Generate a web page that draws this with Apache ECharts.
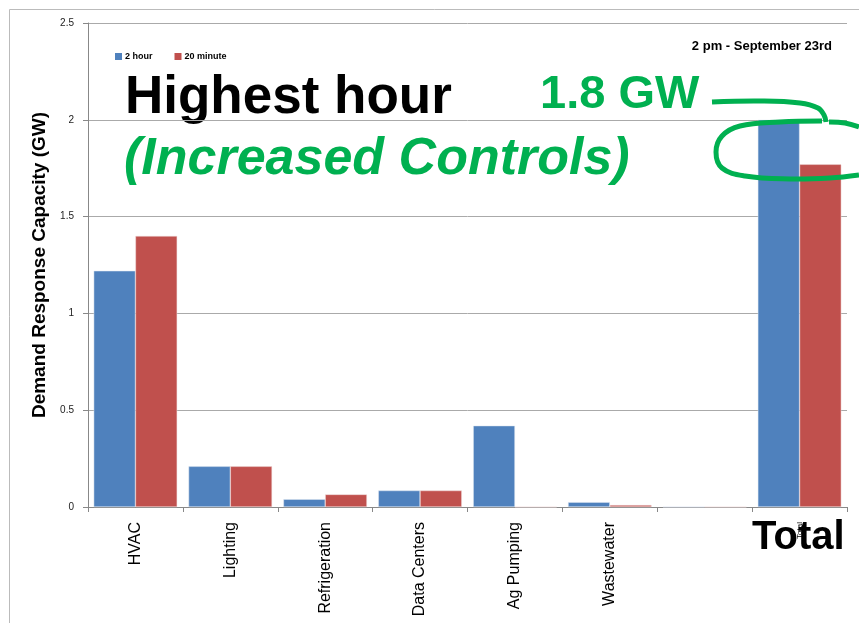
<!DOCTYPE html>
<html>
<head>
<meta charset="utf-8">
<script src="https://cdn.jsdelivr.net/npm/echarts@6/dist/echarts.min.js"></script>
<style>
  html, body { margin: 0; padding: 0; background: #fff; }
  #chart { width: 859px; height: 623px; }
</style>
</head>
<body>
<div id="chart"></div>
<script>
const categories = ["HVAC", "Lighting", "Refrigeration", "Data Centers", "Ag Pumping", "Wastewater", "", "Total"];
const twoHour = [1.22, 0.21, 0.04, 0.085, 0.42, 0.025, 0, 2.0];
const twentyMinute = [1.4, 0.21, 0.065, 0.085, 0, 0.01, 0, 1.77];
const yTicks = [0, 0.5, 1, 1.5, 2, 2.5];

const green = "#00B050";
const chart = echarts.init(document.getElementById("chart"));

const options = {
  animation: false,
  textStyle: { fontFamily: "Liberation Sans" },
  grid: { left: 88, right: 12, top: 23, bottom: 116 },
  legend: {
    left: 110,
    top: 47,
    itemWidth: 7,
    itemHeight: 7,
    itemGap: 22,
    icon: "rect",
    itemStyle: { borderWidth: 0 },
    textStyle: { fontSize: 9, fontWeight: "bold", color: "#000", padding: [0, 0, 0, -2] },
    data: ["2 hour", "20 minute"],
  },
  xAxis: {
    type: "category",
    data: categories.map((c) =>
      c === "Total" ? { value: c, textStyle: { fontSize: 8 } } : c,
    ),
    axisLine: { lineStyle: { color: "#888", width: 1 } },
    axisTick: { show: true, length: 5, lineStyle: { color: "#888" } },
    axisLabel: {
      rotate: 90,
      margin: 15,
      interval: 0,
      fontSize: 16,
      color: "#000",
    },
  },
  yAxis: {
    type: "value",
    min: 0,
    max: 2.5,
    interval: 0.5,
    name: "Demand Response Capacity (GW)",
    nameLocation: "middle",
    nameGap: 38,
    nameTextStyle: { fontSize: 19, fontWeight: "bold", color: "#000" },
    axisLine: { show: true, lineStyle: { color: "#888" } },
    axisTick: { show: true, length: 5, inside: false, lineStyle: { color: "#888" } },
    axisLabel: {
      fontSize: 10,
      color: "#222",
      margin: 14,
      formatter: (v) => (yTicks.includes(v) ? String(v) : ""),
    },
    splitLine: { lineStyle: { color: "#aaa", width: 1 } },
  },
  series: [
    {
      name: "2 hour",
      type: "bar",
      data: twoHour,
      barGap: "0%",
      barCategoryGap: "12%",
      itemStyle: { color: "#4F81BD", borderColor: "#dfe6f0", borderWidth: 0.5 },
    },
    {
      name: "20 minute",
      type: "bar",
      data: twentyMinute,
      barGap: "0%",
      barCategoryGap: "12%",
      itemStyle: { color: "#C0504D", borderColor: "#f0dede", borderWidth: 0.5 },
    },
  ],
  graphic: [
    {
      type: "rect",
      silent: true,
      shape: { x: 9.5, y: 9.5, width: 900, height: 700 },
      style: { fill: "none", stroke: "#bbb", lineWidth: 1 },
    },
    {
      type: "text",
      style: {
        x: 832, y: 46, text: "2 pm - September 23rd",
        align: "right", verticalAlign: "middle",
        font: "bold 13px 'Liberation Sans'", fill: "#000",
      },
    },
    {
      type: "text",
      style: {
        x: 125, y: 98, text: "Highest hour",
        verticalAlign: "middle",
        font: "bold 53px 'Liberation Sans'", fill: "#000",
      },
    },
    {
      type: "text",
      style: {
        x: 124, y: 160, text: "(Increased Controls)",
        verticalAlign: "middle",
        font: "italic bold 52px 'Liberation Sans'", fill: green,
      },
    },
    {
      type: "text",
      style: {
        x: 540, y: 95, text: "1.8 GW",
        verticalAlign: "middle",
        font: "bold 47px 'Liberation Sans'", fill: green,
      },
    },
    {
      type: "text",
      z: 100,
      style: {
        x: 752, y: 538, text: "Total",
        verticalAlign: "middle",
        font: "bold 40px 'Liberation Sans'", fill: "#000",
      },
    },
    {
      type: "polyline",
      z: 100,
      shape: {
        points: [[712, 102], [760, 101], [800, 103], [818, 108], [824, 115], [826, 122]],
        smooth: 0.4,
      },
      style: { fill: "none", stroke: green, lineWidth: 5 },
    },
    {
      type: "polyline",
      z: 100,
      shape: {
        points: [
          [822, 121], [780, 122], [740, 126], [722, 136], [716, 152], [722, 168],
          [745, 176], [790, 179], [830, 178], [859, 175],
        ],
        smooth: 0.4,
      },
      style: { fill: "none", stroke: green, lineWidth: 5 },
    },
    {
      type: "polyline",
      z: 100,
      shape: {
        points: [[829, 122], [845, 123], [859, 127]],
        smooth: 0.4,
      },
      style: { fill: "none", stroke: green, lineWidth: 5 },
    },
  ],
};

chart.setOption(options);
</script>
</body>
</html>
